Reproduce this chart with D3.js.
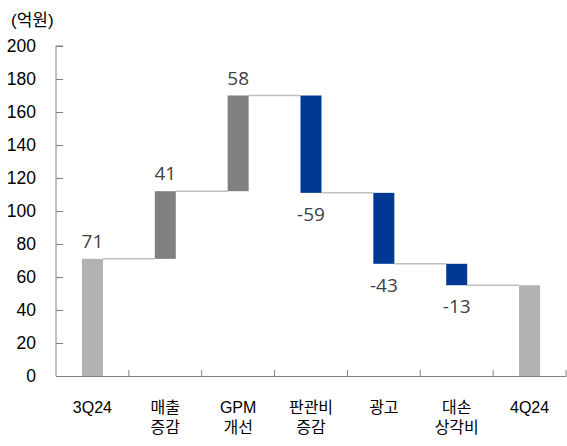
<!DOCTYPE html>
<html>
<head>
<meta charset="utf-8">
<script src="https://cdn.jsdelivr.net/npm/d3@7"></script>
<style>
    body { margin: 0; background: #fff; }
    svg text { font-family: "Liberation Sans", "Noto Sans CJK KR", sans-serif; }
    svg text.val { font-family: "Open Sans", "Liberation Sans", sans-serif; }
</style>
</head>
<body>
<svg width="567" height="446"></svg>
<script>
// categories (two-line labels split with \n)
const categories = ["3Q24", "매출\n증감", "GPM\n개선", "판관비\n증감", "광고", "대손\n상각비", "4Q24"];
// change per step; first and last are totals
const values = [71, 41, 58, -59, -43, -13, 55];
const kinds  = ["total", "step", "step", "step", "step", "step", "total"];
const yTicks = [0, 20, 40, 60, 80, 100, 120, 140, 160, 180, 200];

const svg    = d3.select("svg");
const margin = { top: 46, right: 1, bottom: 70, left: 56 };
const width  = +svg.attr("width");
const height = +svg.attr("height");

// running totals
let run = 0;
const bars = categories.map((c, i) => {
    let y0, y1;
    if (kinds[i] === "total") { y0 = 0; y1 = values[i]; run = values[i]; }
    else { y0 = run; y1 = run + values[i]; run = y1; }
    return { cat: c, v: values[i], kind: kinds[i], y0: y0, y1: y1, end: run };
});

const x = d3.scaleBand()
    .domain(categories)
    .range([margin.left, width - margin.right])
    .paddingInner(0)
    .paddingOuter(0);

const y = d3.scaleLinear()
    .domain([0, 200])
    .range([height - margin.bottom, margin.top]);

const barW = 21;
const colour = d => d.kind === "total" ? "#b2b2b2" : (d.v >= 0 ? "#808080" : "#003893");

// connectors
svg.append("g")
    .selectAll("line")
    .data(bars.slice(0, -1))
    .enter().append("line")
        .attr("x1", (d, i) => x(d.cat) + x.bandwidth() / 2 + barW / 2)
        .attr("x2", (d, i) => x(categories[i + 1]) + x.bandwidth() / 2 - barW / 2)
        .attr("y1", d => y(d.end))
        .attr("y2", d => y(d.end))
        .attr("stroke", "#bfbfbf")
        .attr("stroke-width", 1.5);

// bars
svg.append("g")
    .selectAll("rect")
    .data(bars)
    .enter().append("rect")
        .attr("x", d => x(d.cat) + x.bandwidth() / 2 - barW / 2)
        .attr("width", barW)
        .attr("y", d => y(Math.max(d.y0, d.y1)))
        .attr("height", d => Math.abs(y(d.y0) - y(d.y1)))
        .attr("fill", colour);

// value labels (not for final total)
svg.append("g")
    .selectAll("text")
    .data(bars.slice(0, -1))
    .enter().append("text")
        .attr("class", "val")
        .attr("x", d => x(d.cat) + x.bandwidth() / 2)
        .attr("y", d => d.v >= 0 ? y(Math.max(d.y0, d.y1)) - 11 : y(Math.min(d.y0, d.y1)) + 28)
        .attr("text-anchor", "middle")
        .attr("font-size", 19)
        .attr("fill", "#404040")
        .text(d => d.v);

// y axis
const yAxis = svg.append("g")
    .attr("transform", `translate(${margin.left},0)`)
    .call(d3.axisRight(y).tickValues(yTicks).tickSize(7).tickFormat(d3.format("d")));
yAxis.select(".domain").attr("stroke", "#808080").attr("d", `M7,${y(200)}H0V${y(0)}`);
yAxis.selectAll(".tick line").attr("stroke", "#808080");
yAxis.selectAll(".tick text")
    .attr("x", -20)
    .attr("text-anchor", "end")
    .attr("font-size", 17.5)
    .attr("fill", "#000");

// x axis
const xAxis = svg.append("g")
    .attr("transform", `translate(0,${y(0)})`)
    .call(d3.axisBottom(x).tickSize(0).tickFormat(""));
xAxis.select(".domain").attr("stroke", "#808080");
xAxis.selectAll(".sep")
    .data(categories.slice(1).concat(["end"]))
    .enter().append("line")
        .attr("x1", (d, i) => margin.left + x.step() * (i + 1))
        .attr("x2", (d, i) => margin.left + x.step() * (i + 1))
        .attr("y1", 0).attr("y2", -6)
        .attr("stroke", "#808080");

const xl = svg.append("g")
    .selectAll("text")
    .data(categories)
    .enter().append("text")
        .attr("x", d => x(d) + x.bandwidth() / 2)
        .attr("y", 413)
        .attr("text-anchor", "middle")
        .attr("font-size", 16)
        .attr("fill", "#000");
xl.selectAll("tspan")
    .data(d => d.split("\n"))
    .enter().append("tspan")
        .attr("x", function () { return d3.select(this.parentNode).attr("x"); })
        .attr("dy", (d, i) => i === 0 ? 0 : 20)
        .text(d => d);

// unit label
svg.append("text")
    .attr("x", 11)
    .attr("y", 26)
    .attr("font-size", 17)
    .attr("fill", "#000")
    .text("(억원)");
</script>
</body>
</html>
